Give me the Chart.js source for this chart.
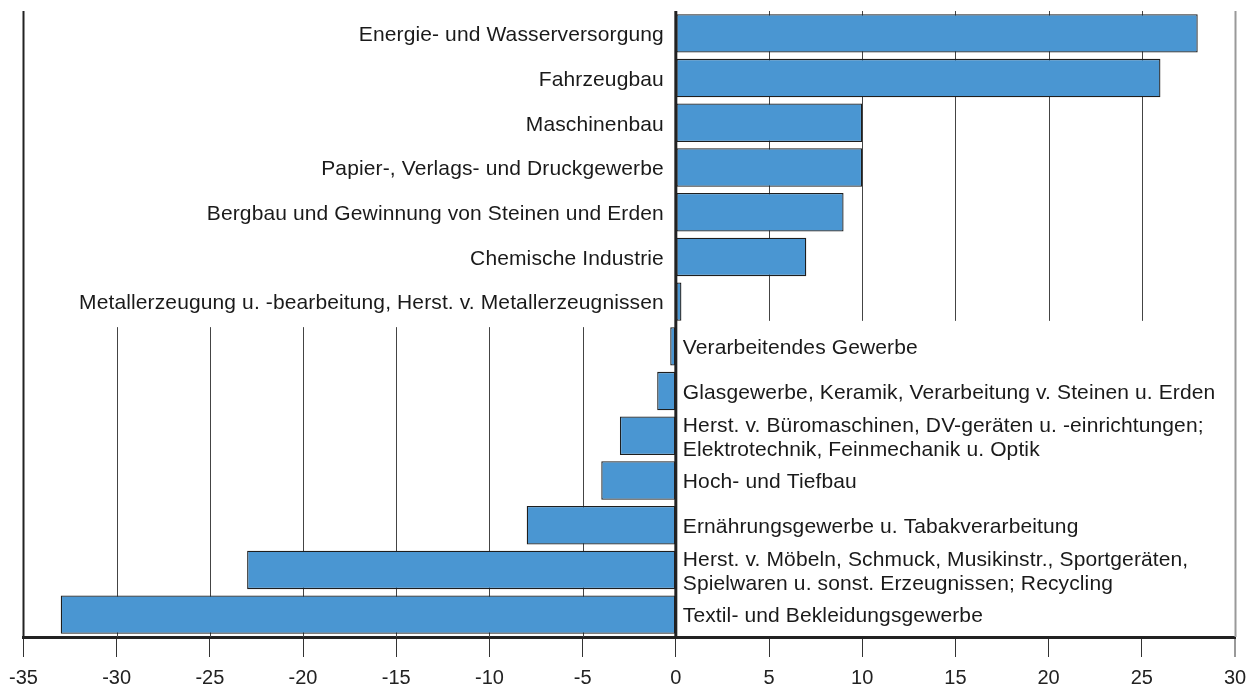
<!DOCTYPE html>
<html>
<head>
<meta charset="utf-8">
<script src="https://cdn.jsdelivr.net/npm/chart.js@4"></script>
<style>
  html, body { margin: 0; padding: 0; background: #fff; }
  #wrap { width: 1256px; height: 690px; }
</style>
</head>
<body>
<div id="wrap"><canvas id="chart-main"></canvas></div>
<script>
const categories = [
  ['Energie- und Wasserversorgung'],
  ['Fahrzeugbau'],
  ['Maschinenbau'],
  ['Papier-, Verlags- und Druckgewerbe'],
  ['Bergbau und Gewinnung von Steinen und Erden'],
  ['Chemische Industrie'],
  ['Metallerzeugung u. -bearbeitung, Herst. v. Metallerzeugnissen'],
  ['Verarbeitendes Gewerbe'],
  ['Glasgewerbe, Keramik, Verarbeitung v. Steinen u. Erden'],
  ['Herst. v. Büromaschinen, DV-geräten u. -einrichtungen;', 'Elektrotechnik, Feinmechanik u. Optik'],
  ['Hoch- und Tiefbau'],
  ['Ernährungsgewerbe u. Tabakverarbeitung'],
  ['Herst. v. Möbeln, Schmuck, Musikinstr., Sportgeräten,', 'Spielwaren u. sonst. Erzeugnissen; Recycling'],
  ['Textil- und Bekleidungsgewerbe']
];
const values = [28, 26, 10, 10, 9, 7, 0.3, -0.3, -1, -3, -4, -8, -23, -33];
const xMin = -35, xMax = 30, xStep = 5;

const FONT = '"Liberation Sans", Arial, Helvetica, sans-serif';
const BAR_PCT = 0.86;

// grid lines stop at the label zone, so they are drawn by hand
const gridPlugin = {
  id: 'splitGrid',
  beforeDatasetsDraw(chart) {
    const { ctx, chartArea: a, scales: { x, y } } = chart;
    const band = y.getPixelForValue(1) - y.getPixelForValue(0);
    const half = band * BAR_PCT / 2;
    const posEnd = y.getPixelForValue(6) + half;
    const negStart = y.getPixelForValue(7) - half;
    ctx.save();
    for (let v = xMin; v <= xMax; v += xStep) {
      if (v === 0) continue;
      const px = Math.round(x.getPixelForValue(v)) + 0.5;
      let y0 = a.top, y1 = a.bottom, col = '#444', w = 1;
      if (v === xMin) { col = '#222'; w = 2; }
      else if (v === xMax) { col = '#999'; w = 2; }
      else if (v > 0) y1 = posEnd;
      else y0 = negStart;
      ctx.strokeStyle = col;
      ctx.lineWidth = w;
      ctx.beginPath();
      ctx.moveTo(px, y0);
      ctx.lineTo(px, y1);
      ctx.stroke();
    }
    ctx.restore();
  },
  afterDatasetsDraw(chart) {
    const { ctx, chartArea: a, scales: { x, y } } = chart;
    const x0 = x.getPixelForValue(0);
    ctx.save();
    // zero line
    ctx.strokeStyle = '#222';
    ctx.lineWidth = 3;
    ctx.beginPath();
    ctx.moveTo(x0, a.top);
    ctx.lineTo(x0, a.bottom);
    ctx.stroke();
    // category labels beside the zero line
    ctx.font = '21px ' + FONT;
    ctx.letterSpacing = '0.12px';
    ctx.fillStyle = '#1a1a1a';
    ctx.textBaseline = 'middle';
    const lh = 24;
    categories.forEach((lines, i) => {
      const cy = y.getPixelForValue(i);
      const pos = values[i] > 0;
      ctx.textAlign = pos ? 'right' : 'left';
      const tx = pos ? x0 - 12 : x0 + 7;
      lines.forEach((ln, j) => {
        ctx.fillText(ln, tx, cy + (j - (lines.length - 1) / 2) * lh + 2);
      });
    });
    ctx.restore();
  }
};

new Chart(document.getElementById('chart-main'), {
  type: 'bar',
  data: {
    labels: categories.map(c => c.join(' ')),
    datasets: [{
      data: values,
      backgroundColor: '#4a96d2',
      borderColor: '#1e1e1e',
      borderWidth: 1.3,
      borderSkipped: false,
      barPercentage: BAR_PCT,
      categoryPercentage: 1
    }]
  },
  options: {
    indexAxis: 'y',
    responsive: true, maintainAspectRatio: false,
    animation: false,
    layout: { padding: { left: 23, right: 21, top: 11, bottom: 0 } },
    plugins: { legend: { display: false }, tooltip: { enabled: false } },
    scales: {
      y: { display: false, offset: true },
      x: {
        min: xMin, max: xMax,
        afterFit: s => { s.height = 53; },
        border: { display: true, color: '#222', width: 3 },
        grid: {
          drawOnChartArea: false, drawTicks: true, tickLength: 20,
          color: c => c.tick && c.tick.value === xMax ? '#999' : '#333',
          lineWidth: c => c.tick && c.tick.value === xMax ? 2 : 1
        },
        ticks: { stepSize: xStep, color: '#222', padding: 9, font: { family: FONT, size: 20 } }
      }
    }
  },
  plugins: [gridPlugin]
});
</script>
</body>
</html>
